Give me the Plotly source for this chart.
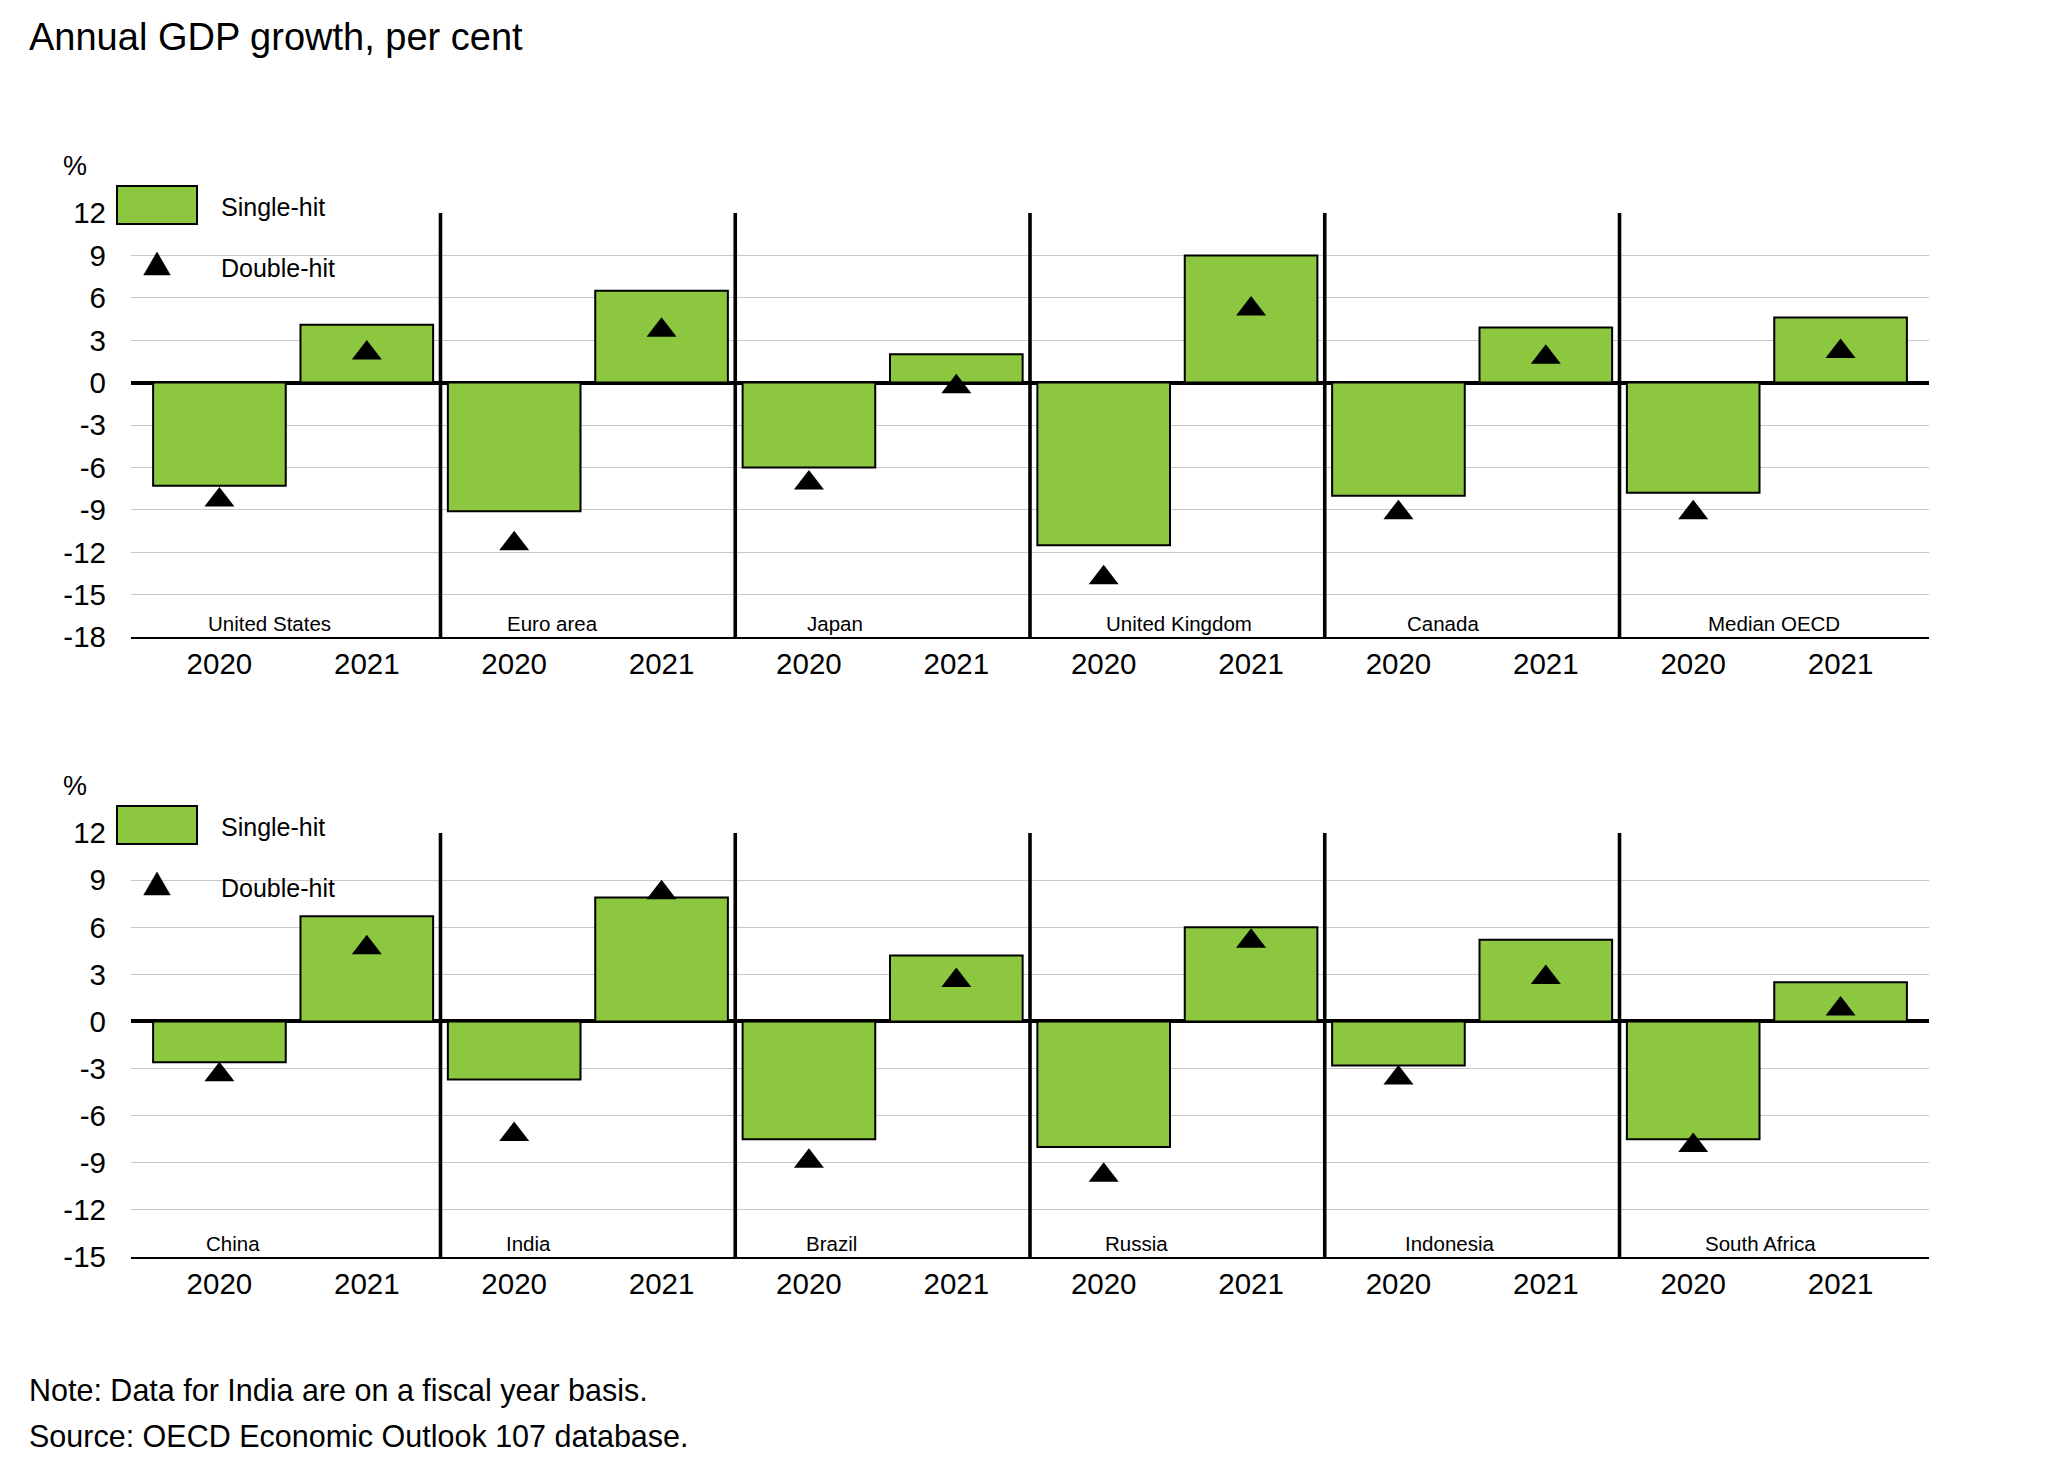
import plotly.graph_objects as go

# ---------------- data ----------------
years = ["2020", "2021"]

top_countries = ["United States", "Euro area", "Japan", "United Kingdom", "Canada", "Median OECD"]
top_single_2020 = [-7.3, -9.1, -6.0, -11.5, -8.0, -7.8]
top_single_2021 = [4.1, 6.5, 2.0, 9.0, 3.9, 4.6]
top_double_2020 = [-8.3, -11.4, -7.1, -13.8, -9.2, -9.2]
top_double_2021 = [2.1, 3.7, -0.3, 5.2, 1.8, 2.2]

bottom_countries = ["China", "India", "Brazil", "Russia", "Indonesia", "South Africa"]
bottom_single_2020 = [-2.6, -3.7, -7.5, -8.0, -2.8, -7.5]
bottom_single_2021 = [6.7, 7.9, 4.2, 6.0, 5.2, 2.5]
bottom_double_2020 = [-3.4, -7.2, -8.9, -9.8, -3.6, -7.9]
bottom_double_2021 = [4.7, 8.2, 2.6, 5.1, 2.8, 0.8]

top_yticks = [12, 9, 6, 3, 0, -3, -6, -9, -12, -15, -18]
bottom_yticks = [12, 9, 6, 3, 0, -3, -6, -9, -12, -15]

title_text = "Annual GDP growth, per cent"
note_text = "Note: Data for India are on a fiscal year basis."
source_text = "Source: OECD Economic Outlook 107 database."
legend_names = ["Single-hit", "Double-hit"]

# ---------------- style / layout ----------------
W, H = 2046, 1457
ML, MR = 131, 117
PW = W - ML - MR
GREEN = "#8DC63F"
GRID = "#c8c8c8"
FONT = "Liberation Sans, Arial, sans-serif"
NARROW = "Liberation Sans Narrow, Arial Narrow, Liberation Sans, sans-serif"

# horizontal nudges of the country captions (relative to group centre)
top_label_dx = [-0.16, -0.24, -0.32, 0.01, -0.20, 0.045]
bottom_label_dx = [-0.41, -0.40, -0.35, -0.28, -0.15, -0.04]


def px_x(px):
    return (px - ML) / PW


def px_y(py):
    return 1 - py / H


panels = [
    dict(countries=top_countries, s20=top_single_2020, s21=top_single_2021,
         d20=top_double_2020, d21=top_double_2021, yticks=top_yticks,
         top=213, bottom=637, dx=top_label_dx, xa="x", ya="y"),
    dict(countries=bottom_countries, s20=bottom_single_2020, s21=bottom_single_2021,
         d20=bottom_double_2020, d21=bottom_double_2021, yticks=bottom_yticks,
         top=833, bottom=1257, dx=bottom_label_dx, xa="x2", ya="y2"),
]

fig = go.Figure()
shapes = []
annotations = []

for p in panels:
    n = len(p["countries"])
    xs, single, double, ticktext = [], [], [], []
    for i in range(n):
        for j, yr in enumerate(years):
            xs.append(2 * i + j)
            single.append(p["s20"][i] if j == 0 else p["s21"][i])
            double.append(p["d20"][i] if j == 0 else p["d21"][i])
            ticktext.append(yr)

    fig.add_trace(go.Bar(
        x=xs, y=single, name=legend_names[0], xaxis=p["xa"], yaxis=p["ya"],
        marker=dict(color=GREEN, line=dict(color="black", width=2)),
        width=0.9, showlegend=False, hoverinfo="y"))
    fig.add_trace(go.Scatter(
        x=xs, y=double, name=legend_names[1], xaxis=p["xa"], yaxis=p["ya"],
        mode="markers", marker=dict(symbol="triangle-up", size=26, color="black"),
        showlegend=False, hoverinfo="y"))

    axis_suffix = "" if p["xa"] == "x" else "2"
    ydom = [px_y(p["bottom"]), px_y(p["top"])]
    fig.layout["xaxis" + axis_suffix] = dict(
        domain=[0, 1], anchor=p["ya"], range=[-0.6, 2 * n - 0.4],
        tickmode="array", tickvals=xs, ticktext=ticktext,
        showgrid=False, zeroline=False, showline=True, linecolor="black", linewidth=1.5,
        ticks="", ticklabelstandoff=0, automargin=False,
        tickfont=dict(family=FONT, size=29.5, color="black"), fixedrange=True)
    fig.layout["yaxis" + axis_suffix] = dict(
        domain=ydom, anchor=p["xa"], range=[min(p["yticks"]), max(p["yticks"])],
        tickmode="array", tickvals=p["yticks"], ticktext=[str(v) for v in p["yticks"]],
        showgrid=True, gridcolor=GRID, gridwidth=1.2,
        zeroline=True, zerolinecolor="black", zerolinewidth=3.5,
        showline=False, ticks="", ticklabelstandoff=24, automargin=False,
        tickfont=dict(family=FONT, size=29.5, color="black"), fixedrange=True)

    # group separators
    for k in range(1, n):
        shapes.append(dict(type="line", xref=p["xa"], yref=p["ya"] + " domain",
                           x0=2 * k - 0.5, x1=2 * k - 0.5, y0=0, y1=1,
                           line=dict(color="black", width=3.6)))
    # country captions
    for i, c in enumerate(p["countries"]):
        annotations.append(dict(text=c, xref=p["xa"], yref=p["ya"] + " domain",
                                x=2 * i + 0.5 + p["dx"][i], y=14 / (p["bottom"] - p["top"]),
                                xanchor="center", yanchor="middle", showarrow=False,
                                font=dict(family=FONT, size=20.5, color="black")))
    # "%" unit label
    t = p["top"]
    annotations.append(dict(text="%", xref="paper", yref="paper", x=px_x(75), y=px_y(t - 47),
                            xanchor="center", yanchor="middle", showarrow=False,
                            font=dict(family=FONT, size=27, color="black")))
    # legend (drawn)
    shapes.append(dict(type="rect", xref="paper", yref="paper",
                       x0=px_x(117), x1=px_x(197), y0=px_y(t + 11), y1=px_y(t - 27),
                       fillcolor=GREEN, line=dict(color="black", width=2), layer="above"))
    ax, ay = 157, t + 39
    path = "M {:.5f},{:.5f} L {:.5f},{:.5f} L {:.5f},{:.5f} Z".format(
        px_x(ax), px_y(ay), px_x(ax - 13.3), px_y(ay + 23), px_x(ax + 13.3), px_y(ay + 23))
    shapes.append(dict(type="path", xref="paper", yref="paper", path=path,
                       fillcolor="black", line=dict(color="black", width=0.5), layer="above"))
    annotations.append(dict(text=legend_names[0], xref="paper", yref="paper",
                            x=px_x(219), y=px_y(t - 6), xanchor="left", yanchor="middle",
                            showarrow=False, font=dict(family=FONT, size=25, color="black")))
    annotations.append(dict(text=legend_names[1], xref="paper", yref="paper",
                            x=px_x(219), y=px_y(t + 55), xanchor="left", yanchor="middle",
                            showarrow=False, font=dict(family=FONT, size=25, color="black")))

# title, note, source
annotations.append(dict(text=title_text, xref="paper", yref="paper", x=px_x(27), y=px_y(37),
                        xanchor="left", yanchor="middle", showarrow=False,
                        font=dict(family=NARROW, size=38, color="black")))
annotations.append(dict(text=note_text, xref="paper", yref="paper", x=px_x(27), y=px_y(1390),
                        xanchor="left", yanchor="middle", showarrow=False,
                        font=dict(family=NARROW, size=30.5, color="black")))
annotations.append(dict(text=source_text, xref="paper", yref="paper", x=px_x(27), y=px_y(1436),
                        xanchor="left", yanchor="middle", showarrow=False,
                        font=dict(family=NARROW, size=30.5, color="black")))

fig.update_layout(
    width=W, height=H, autosize=False,
    margin=dict(l=ML, r=MR, t=0, b=0, pad=0, autoexpand=False),
    paper_bgcolor="white", plot_bgcolor="white",
    bargap=0.1, showlegend=False,
    shapes=shapes, annotations=annotations,
    font=dict(family=FONT, color="black"),
)

fig.write_html("out.html", config={"displayModeBar": False},
               post_script="document.body.style.margin='0';")
